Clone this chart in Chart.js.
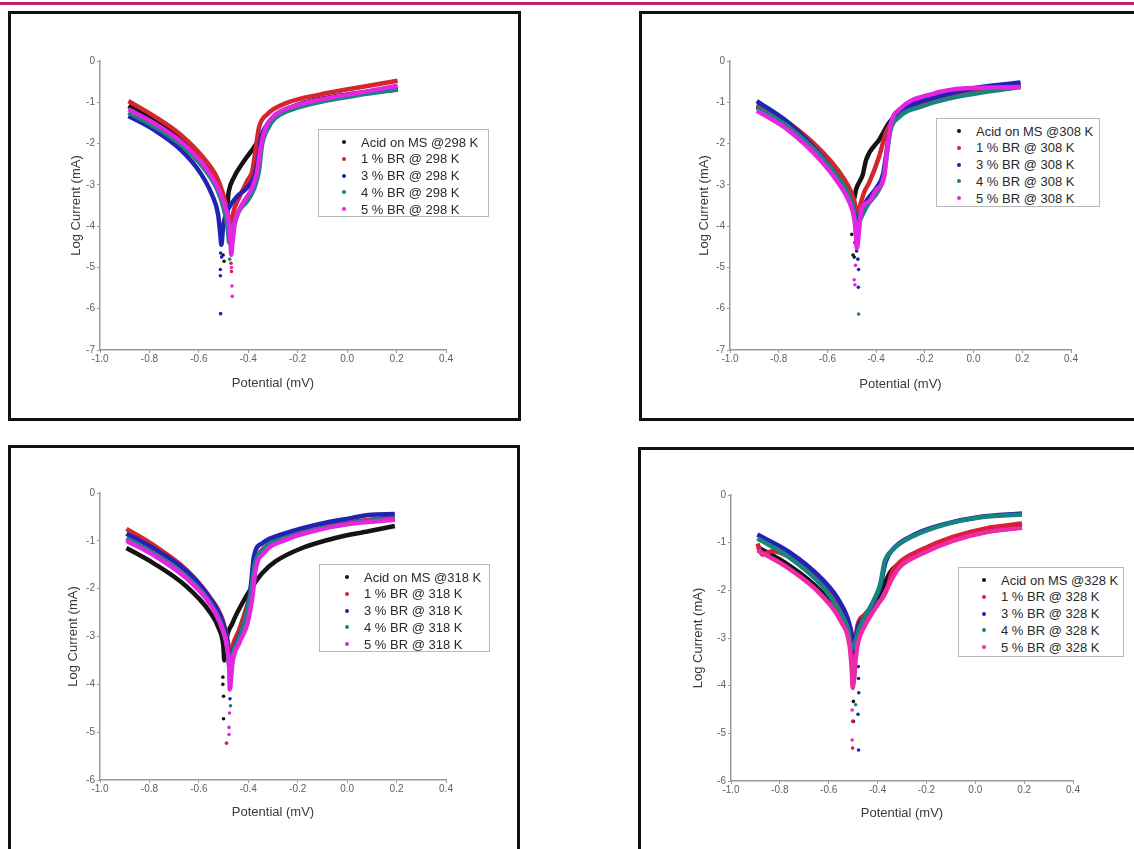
<!DOCTYPE html>
<html><head><meta charset="utf-8">
<script src="https://cdn.jsdelivr.net/npm/chart.js@4.4.1/dist/chart.umd.min.js"></script>
<style>
html,body{margin:0;padding:0;background:#fff;width:1134px;height:849px;overflow:hidden;position:relative;font-family:"Liberation Sans",Arial,sans-serif;}
.topline{position:absolute;left:0;top:2px;width:1134px;height:3px;background:#c21f6a;}
.panel{position:absolute;border:3px solid #111;box-sizing:border-box;}
canvas{position:absolute;}
.legend{position:absolute;border:1px solid #b8b8b8;box-sizing:border-box;background:#fff;}
.legend .row{position:absolute;height:17px;line-height:17px;font-size:13px;color:#2a2a2a;white-space:nowrap;}
.legend .dot{position:absolute;width:4px;height:4px;border-radius:50%;}
</style></head><body>
<div class="topline"></div>
<script>
// ---------- DATA ----------
const xTicks = [-1.0, -0.8, -0.6, -0.4, -0.2, 0.0, 0.2, 0.4];
const yTicks7 = [0, -1, -2, -3, -4, -5, -6, -7];
const yTicks6 = [0, -1, -2, -3, -4, -5, -6];

const labels298 = ['Acid on MS @298 K', '1 % BR @ 298 K', '3 % BR @ 298 K', '4 % BR @ 298 K', '5 % BR @ 298 K'];
const labels308 = ['Acid on MS @308 K', '1 % BR @ 308 K', '3 % BR @ 308 K', '4 % BR @ 308 K', '5 % BR @ 308 K'];
const labels318 = ['Acid on MS @318 K', '1 % BR @ 318 K', '3 % BR @ 318 K', '4 % BR @ 318 K', '5 % BR @ 318 K'];
const labels328 = ['Acid on MS @328 K', '1 % BR @ 328 K', '3 % BR @ 328 K', '4 % BR @ 328 K', '5 % BR @ 328 K'];

// 298 K  [potential, log current]
const acid298 = [[-0.885,-1.09],[-0.783,-1.42],[-0.675,-1.86],[-0.581,-2.43],[-0.526,-2.95],[-0.499,-3.4],[-0.489,-3.64],[-0.479,-3.16],[-0.459,-2.83],[-0.418,-2.43],[-0.378,-2.1],[-0.344,-1.78],[-0.31,-1.46],[-0.269,-1.25],[-0.175,-1.01],[-0.04,-0.85],[0.204,-0.65]];
const one298 = [[-0.885,-0.97],[-0.783,-1.33],[-0.675,-1.78],[-0.581,-2.35],[-0.526,-2.83],[-0.499,-3.28],[-0.486,-3.6],[-0.474,-3.95],[-0.466,-3.8],[-0.455,-3.55],[-0.438,-3.32],[-0.405,-2.91],[-0.384,-2.67],[-0.371,-2.18],[-0.357,-1.62],[-0.323,-1.29],[-0.242,-1.01],[-0.107,-0.81],[0.028,-0.66],[0.204,-0.48]];
const three298 = [[-0.885,-1.33],[-0.783,-1.66],[-0.675,-2.14],[-0.594,-2.71],[-0.547,-3.24],[-0.522,-3.72],[-0.513,-4.21],[-0.509,-4.45],[-0.503,-4.1],[-0.495,-3.8],[-0.479,-3.56],[-0.445,-3.28],[-0.405,-3.07],[-0.378,-2.83],[-0.361,-2.43],[-0.348,-1.86],[-0.323,-1.54],[-0.269,-1.25],[-0.175,-1.04],[-0.04,-0.87],[0.204,-0.69]];
const four298 = [[-0.885,-1.25],[-0.783,-1.58],[-0.675,-2.02],[-0.581,-2.59],[-0.526,-3.11],[-0.5,-3.56],[-0.483,-4.05],[-0.477,-4.4],[-0.468,-4.2],[-0.459,-4.0],[-0.438,-3.64],[-0.405,-3.4],[-0.378,-3.11],[-0.357,-2.67],[-0.344,-2.02],[-0.323,-1.66],[-0.29,-1.38],[-0.201,-1.13],[-0.093,-0.97],[0.042,-0.83],[0.204,-0.69]];
const five298 = [[-0.885,-1.17],[-0.783,-1.5],[-0.675,-1.94],[-0.581,-2.51],[-0.526,-3.03],[-0.496,-3.48],[-0.479,-3.88],[-0.472,-4.37],[-0.469,-4.69],[-0.464,-4.4],[-0.455,-3.95],[-0.445,-3.72],[-0.418,-3.4],[-0.384,-3.07],[-0.364,-2.67],[-0.35,-2.1],[-0.33,-1.62],[-0.296,-1.33],[-0.215,-1.09],[-0.107,-0.93],[0.028,-0.79],[0.204,-0.6]];
const acid298Dots = [[-0.502,-4.7],[-0.498,-4.85]];
const one298Dots = [[-0.47,-4.9],[-0.468,-5.1]];
const three298Dots = [[-0.512,-4.65],[-0.508,-4.75],[-0.513,-5.05],[-0.513,-5.2],[-0.512,-6.12]];
const four298Dots = [[-0.475,-4.8]];
const five298Dots = [[-0.468,-5.0],[-0.466,-5.45],[-0.465,-5.7]];

// 308 K
const acid308 = [[-0.89,-1.1],[-0.759,-1.55],[-0.621,-2.27],[-0.552,-2.76],[-0.51,-3.12],[-0.492,-3.35],[-0.482,-3.1],[-0.455,-2.75],[-0.441,-2.39],[-0.388,-1.91],[-0.347,-1.5],[-0.306,-1.23],[-0.138,-0.89],[0.0,-0.71],[0.193,-0.58]];
const one308 = [[-0.89,-1.05],[-0.759,-1.5],[-0.621,-2.2],[-0.552,-2.68],[-0.51,-3.08],[-0.49,-3.38],[-0.478,-3.72],[-0.469,-3.56],[-0.448,-3.16],[-0.429,-2.95],[-0.388,-2.32],[-0.36,-1.74],[-0.338,-1.5],[-0.31,-1.32],[-0.207,-1.05],[-0.069,-0.81],[0.193,-0.6]];
const three308 = [[-0.89,-0.97],[-0.759,-1.5],[-0.621,-2.33],[-0.552,-2.88],[-0.51,-3.32],[-0.49,-3.62],[-0.48,-3.9],[-0.472,-3.85],[-0.466,-3.72],[-0.441,-3.4],[-0.4,-3.08],[-0.372,-2.75],[-0.359,-2.27],[-0.345,-1.7],[-0.317,-1.34],[-0.276,-1.13],[-0.138,-0.85],[0.0,-0.66],[0.193,-0.52]];
const four308 = [[-0.89,-1.12],[-0.759,-1.6],[-0.621,-2.35],[-0.552,-2.86],[-0.51,-3.28],[-0.49,-3.65],[-0.48,-4.1],[-0.472,-3.95],[-0.462,-3.8],[-0.434,-3.48],[-0.393,-3.16],[-0.37,-2.83],[-0.356,-2.27],[-0.342,-1.7],[-0.31,-1.38],[-0.207,-1.09],[-0.069,-0.87],[0.193,-0.63]];
const five308 = [[-0.89,-1.2],[-0.759,-1.68],[-0.621,-2.45],[-0.552,-2.98],[-0.51,-3.42],[-0.49,-3.82],[-0.483,-4.21],[-0.479,-4.53],[-0.472,-4.21],[-0.461,-3.6],[-0.428,-3.4],[-0.4,-3.12],[-0.367,-2.8],[-0.355,-2.15],[-0.339,-1.5],[-0.306,-1.18],[-0.171,-0.8],[-0.033,-0.66],[0.193,-0.63]];
const acid308Dots = [[-0.5,-4.2],[-0.495,-4.7],[-0.49,-4.75]];
const one308Dots = [[-0.488,-4.4]];
const three308Dots = [[-0.48,-4.6],[-0.475,-4.8],[-0.472,-5.05],[-0.473,-5.48]];
const four308Dots = [[-0.472,-6.13]];
const five308Dots = [[-0.485,-4.95],[-0.49,-5.3],[-0.487,-5.42]];

// 318 K
const acid318 = [[-0.893,-1.15],[-0.786,-1.46],[-0.651,-1.95],[-0.558,-2.47],[-0.517,-2.86],[-0.501,-3.2],[-0.497,-3.5],[-0.491,-3.14],[-0.464,-2.72],[-0.424,-2.3],[-0.383,-1.95],[-0.343,-1.67],[-0.29,-1.43],[-0.182,-1.15],[-0.048,-0.94],[0.086,-0.8],[0.193,-0.69]];
const one318 = [[-0.893,-0.75],[-0.786,-1.08],[-0.651,-1.6],[-0.558,-2.16],[-0.504,-2.65],[-0.484,-3.07],[-0.475,-3.41],[-0.468,-3.3],[-0.464,-3.2],[-0.437,-2.86],[-0.41,-2.44],[-0.386,-2.02],[-0.37,-1.46],[-0.336,-1.15],[-0.249,-0.91],[-0.115,-0.73],[0.019,-0.61],[0.193,-0.5]];
const three318 = [[-0.893,-0.85],[-0.786,-1.15],[-0.651,-1.63],[-0.558,-2.18],[-0.504,-2.7],[-0.484,-3.15],[-0.477,-3.55],[-0.47,-3.5],[-0.464,-3.34],[-0.437,-3.0],[-0.41,-2.58],[-0.39,-1.95],[-0.377,-1.32],[-0.343,-1.05],[-0.249,-0.84],[-0.115,-0.65],[0.019,-0.52],[0.086,-0.46],[0.193,-0.44]];
const four318 = [[-0.893,-0.95],[-0.786,-1.25],[-0.651,-1.74],[-0.558,-2.27],[-0.504,-2.82],[-0.484,-3.25],[-0.477,-3.65],[-0.471,-3.8],[-0.466,-3.48],[-0.44,-3.07],[-0.413,-2.65],[-0.39,-2.09],[-0.375,-1.53],[-0.34,-1.18],[-0.249,-0.94],[-0.115,-0.75],[0.019,-0.63],[0.193,-0.53]];
const five318 = [[-0.893,-1.0],[-0.786,-1.29],[-0.651,-1.78],[-0.558,-2.3],[-0.504,-2.86],[-0.484,-3.28],[-0.477,-3.69],[-0.475,-4.11],[-0.47,-3.9],[-0.464,-3.55],[-0.437,-3.14],[-0.403,-2.72],[-0.383,-2.16],[-0.37,-1.6],[-0.336,-1.25],[-0.249,-0.98],[-0.115,-0.77],[0.019,-0.64],[0.193,-0.56]];
const acid318Dots = [[-0.503,-3.85],[-0.503,-4.0],[-0.5,-4.25],[-0.5,-4.72]];
const one318Dots = [[-0.488,-5.23]];
const three318Dots = [[-0.474,-4.3]];
const four318Dots = [[-0.472,-4.45]];
const five318Dots = [[-0.476,-4.6],[-0.478,-4.9],[-0.478,-5.05]];

// 328 K
const acid328 = [[-0.892,-1.09],[-0.764,-1.47],[-0.63,-2.03],[-0.549,-2.59],[-0.511,-3.08],[-0.502,-3.5],[-0.499,-3.92],[-0.491,-3.36],[-0.482,-2.94],[-0.455,-2.66],[-0.415,-2.31],[-0.381,-1.96],[-0.347,-1.61],[-0.307,-1.43],[-0.226,-1.19],[-0.092,-0.93],[0.043,-0.77],[0.191,-0.67]];
const one328 = [[-0.892,-1.02],[-0.872,-1.25],[-0.832,-1.18],[-0.697,-1.54],[-0.603,-2.03],[-0.542,-2.52],[-0.511,-2.94],[-0.502,-3.36],[-0.499,-3.64],[-0.491,-3.08],[-0.482,-2.73],[-0.455,-2.52],[-0.415,-2.31],[-0.381,-2.17],[-0.361,-1.96],[-0.34,-1.61],[-0.307,-1.4],[-0.226,-1.16],[-0.092,-0.88],[0.043,-0.7],[0.191,-0.6]];
const three328 = [[-0.892,-0.83],[-0.764,-1.19],[-0.63,-1.75],[-0.563,-2.17],[-0.522,-2.59],[-0.502,-3.01],[-0.495,-3.29],[-0.482,-2.8],[-0.455,-2.59],[-0.415,-2.24],[-0.388,-1.89],[-0.367,-1.4],[-0.334,-1.12],[-0.253,-0.84],[-0.118,-0.6],[0.016,-0.46],[0.191,-0.39]];
const four328 = [[-0.892,-0.91],[-0.764,-1.3],[-0.63,-1.89],[-0.563,-2.38],[-0.522,-2.8],[-0.506,-3.22],[-0.495,-3.15],[-0.475,-2.8],[-0.448,-2.52],[-0.415,-2.2],[-0.39,-1.89],[-0.371,-1.4],[-0.336,-1.14],[-0.253,-0.86],[-0.118,-0.61],[0.016,-0.47],[0.191,-0.41]];
const five328 = [[-0.892,-1.16],[-0.764,-1.54],[-0.63,-2.1],[-0.549,-2.66],[-0.515,-3.15],[-0.506,-3.64],[-0.502,-4.05],[-0.491,-3.5],[-0.479,-3.08],[-0.455,-2.77],[-0.415,-2.42],[-0.374,-2.1],[-0.34,-1.75],[-0.307,-1.5],[-0.226,-1.25],[-0.092,-0.96],[0.043,-0.78],[0.191,-0.69]];
const acid328Dots = [[-0.499,-4.33],[-0.499,-4.75]];
const one328Dots = [[-0.502,-4.75],[-0.502,-5.31]];
const three328Dots = [[-0.479,-3.6],[-0.478,-3.85],[-0.477,-4.15],[-0.48,-4.6],[-0.478,-5.35]];
const four328Dots = [[-0.49,-4.4]];
const five328Dots = [[-0.504,-4.51],[-0.504,-5.14]];

// ---------- STYLE / LAYOUT ----------
const colors = ['#141414', '#d3262e', '#2222b6', '#17857d', '#e226e2'];
const colors328 = ['#141414', '#d92038', '#2222b6', '#17857d', '#ee2aa8'];
const drawOrder = [4, 3, 2, 1, 0]; // magenta on top

const panels = [
  {labels: labels298, series: [acid298, one298, three298, four298, five298], dots: [acid298Dots, one298Dots, three298Dots, four298Dots, five298Dots], yMin: -7, yTicks: yTicks7, colors: colors,
   border: {x: 8, y: 11, w: 513, h: 410}, box: {x: 11, y: 14, w: 507, h: 404}, area: {L: 100, R: 446, T: 61, B: 350}, yTitleX: 76, xTitleY: 383,
   legend: {x: 318, y: 129, w: 171, h: 88, textX: 42}},
  {labels: labels308, series: [acid308, one308, three308, four308, five308], dots: [acid308Dots, one308Dots, three308Dots, four308Dots, five308Dots], yMin: -7, yTicks: yTicks7, colors: colors,
   border: {x: 639, y: 11, w: 500, h: 410}, box: {x: 642, y: 14, w: 492, h: 404}, area: {L: 730, R: 1071, T: 61, B: 350}, yTitleX: 704, xTitleY: 384,
   legend: {x: 936, y: 118, w: 164, h: 89, textX: 39}},
  {labels: labels318, series: [acid318, one318, three318, four318, five318], dots: [acid318Dots, one318Dots, three318Dots, four318Dots, five318Dots], yMin: -6, yTicks: yTicks6, colors: colors,
   border: {x: 8, y: 445, w: 512, h: 410}, box: {x: 11, y: 448, w: 506, h: 401}, area: {L: 100, R: 446, T: 493, B: 780}, yTitleX: 73, xTitleY: 812,
   legend: {x: 319, y: 564, w: 171, h: 88, textX: 44}},
  {labels: labels328, series: [acid328, one328, three328, four328, five328], dots: [acid328Dots, one328Dots, three328Dots, four328Dots, five328Dots], yMin: -6, yTicks: yTicks6, colors: colors328,
   border: {x: 638, y: 447, w: 500, h: 410}, box: {x: 641, y: 450, w: 493, h: 399}, area: {L: 731, R: 1073, T: 495, B: 781}, yTitleX: 698, xTitleY: 813,
   legend: {x: 958, y: 567, w: 166, h: 90, textX: 42}}
];

const FONT = '"Liberation Sans", Arial, sans-serif';
const titleSize = 13;
const tickSize = 10;

function toXY(arr) { return arr.map(p => ({x: p[0], y: p[1]})); }

panels.forEach(p => {
  const b = document.createElement('div');
  b.className = 'panel';
  Object.assign(b.style, {left: p.border.x + 'px', top: p.border.y + 'px', width: p.border.w + 'px', height: p.border.h + 'px'});
  document.body.appendChild(b);

  const cv = document.createElement('canvas');
  cv.width = p.box.w; cv.height = p.box.h;
  Object.assign(cv.style, {left: p.box.x + 'px', top: p.box.y + 'px', width: p.box.w + 'px', height: p.box.h + 'px'});
  document.body.appendChild(cv);

  const lh = titleSize * 1.2;
  const yScaleLeft = p.yTitleX - lh / 2;
  const yW = p.area.L - yScaleLeft;
  const xH = p.xTitleY + lh / 2 - p.area.B;
  const pad = {
    left: yScaleLeft - p.box.x,
    top: p.area.T - p.box.y,
    right: p.box.x + p.box.w - p.area.R,
    bottom: p.box.y + p.box.h - p.area.B - xH
  };

  const datasets = [];
  p.series.forEach((s, i) => {
    datasets.push({data: toXY(s), borderColor: p.colors[i], backgroundColor: p.colors[i], borderWidth: 4.5,
      pointRadius: 0, cubicInterpolationMode: 'monotone', fill: false, order: drawOrder[i]});
    datasets.push({data: toXY(p.dots[i]), showLine: false, pointRadius: 1.8, pointBorderWidth: 0,
      backgroundColor: p.colors[i], borderColor: p.colors[i], order: drawOrder[i]});
  });

  new Chart(cv, {
    type: 'line',
    data: {datasets},
    options: {
      responsive: false, animation: false, devicePixelRatio: 1,
      layout: {padding: pad},
      plugins: {legend: {display: false}, tooltip: {enabled: false}},
      scales: {
        x: {type: 'linear', min: -1, max: 0.4,
          afterBuildTicks: s => { s.ticks = xTicks.map(v => ({value: v})); },
          afterFit: s => { s.height = xH; s.paddingLeft = 0; s.paddingRight = 0; },
          ticks: {callback: v => Number(v).toFixed(1), font: {size: tickSize, family: FONT}, color: '#606060', padding: 0, maxRotation: 0, autoSkip: false},
          grid: {drawOnChartArea: false, drawTicks: true, tickLength: 3, color: '#9a9a9a', lineWidth: 1},
          border: {display: true, color: '#9a9a9a', width: 1.5},
          title: {display: true, text: 'Potential (mV)', font: {size: titleSize, family: FONT}, color: '#3a3a3a', padding: 0}
        },
        y: {type: 'linear', min: p.yMin, max: 0,
          afterBuildTicks: s => { s.ticks = p.yTicks.map(v => ({value: v})); },
          afterFit: s => { s.width = yW; s.paddingTop = 0; s.paddingBottom = 0; },
          ticks: {callback: v => String(v), font: {size: tickSize, family: FONT}, color: '#606060', padding: 2},
          grid: {drawOnChartArea: false, drawTicks: true, tickLength: 3, color: '#9a9a9a', lineWidth: 1},
          border: {display: true, color: '#9a9a9a', width: 1.5},
          title: {display: true, text: 'Log Current (mA)', font: {size: titleSize, family: FONT}, color: '#3a3a3a', padding: 0}
        }
      }
    }
  });

  const lg = document.createElement('div');
  lg.className = 'legend';
  Object.assign(lg.style, {left: p.legend.x + 'px', top: p.legend.y + 'px', width: p.legend.w + 'px', height: p.legend.h + 'px'});
  p.labels.forEach((t, i) => {
    const cy = 13 + i * 16.8;
    const d = document.createElement('div');
    d.className = 'dot';
    Object.assign(d.style, {left: (p.legend.textX - 19) + 'px', top: (cy - 2 - 1) + 'px', background: p.colors[i]});
    lg.appendChild(d);
    const r = document.createElement('div');
    r.className = 'row';
    r.textContent = t;
    Object.assign(r.style, {left: p.legend.textX + 'px', top: (cy - 8.5 - 1) + 'px'});
    lg.appendChild(r);
  });
  document.body.appendChild(lg);
});
</script>
</body></html>
